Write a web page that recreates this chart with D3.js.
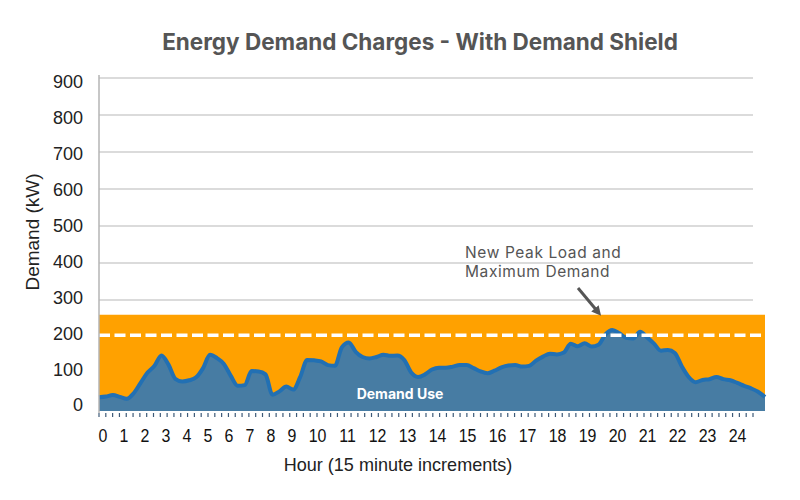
<!DOCTYPE html>
<html><head><meta charset="utf-8">
<script src="https://cdn.jsdelivr.net/npm/d3@7"></script>
<style>body{margin:0;background:#fff}svg{display:block}</style>
</head><body><svg id="c" width="800" height="500"></svg>
<script>
// ---- data ----
const hourLabels = ["0","1","2","3","4","5","6","7","8","9","10","11","12","13","14","15","16","17","18","19","20","21","22","23","24"];
const yTickValues = [0,100,200,300,400,500,600,700,800,900];
// demand every 15 minutes, hour 0 .. 24 (97 points)
const demand = [37,39,43,38,33,48,76,104,122,150,126,87,80,83,91,116,152,143,127,95,68,70,108,107,99,44,53,66,58,92,138,137,134,124,122,172,185,160,146,142,146,152,149,150,138,104,92,99,112,117,117,120,124,124,116,107,102,109,118,123,124,120,122,136,147,155,153,158,182,175,183,174,179,207,219,210,198,196,214,199,182,163,165,157,121,92,78,84,86,92,86,83,76,68,61,52,38];
const shieldLevel = [260]; // orange band top (kW)
const peakDemand = [205];  // dashed line (kW)
const title = "Energy Demand Charges - With Demand Shield";
const yTitle = "Demand (kW)";
const xTitle = "Hour (15 minute increments)";
const annotation = ["New Peak Load and","Maximum Demand"];
const areaLabel = "Demand Use";

const svg = d3.select("#c");
const x = d3.scaleLinear().domain([0,24]).range([99,765]);
const xTick = d3.scaleLinear().domain([0,24]).range([99,753]);
const y = d3.scaleLinear().domain([0,900]).range([411,78]);
const yLab = d3.scaleLinear().domain([0,900]).range([405,82]);

// gridlines
svg.append("g").selectAll("line").data(yTickValues.filter(v=>v>0)).join("line")
  .attr("x1",99).attr("x2",753).attr("y1",d=>y(d)).attr("y2",d=>y(d))
  .attr("stroke","#cfcfcf").attr("stroke-width",1.3);

// orange shield band
svg.append("path").datum([0,24])
  .attr("d", d3.area().x(d=>x(d)).y0(y(0)).y1(y(shieldLevel[0])))
  .attr("fill","#ffa100");

// demand area
const pts = demand.map((d,i)=>({h:i/4,v:d}));
svg.append("path").datum(pts)
  .attr("d", d3.area().curve(d3.curveMonotoneX).x(d=>x(d.h)).y0(y(0)).y1(d=>y(d.v)))
  .attr("fill","#477ca3");
svg.append("path").datum(pts)
  .attr("d", d3.line().curve(d3.curveMonotoneX).x(d=>x(d.h)).y(d=>y(d.v)))
  .attr("fill","none").attr("stroke","#2270b3").attr("stroke-width",4).attr("stroke-linejoin","round");

// dashed peak line
svg.append("line").attr("x1",x(0)).attr("x2",x(24)).attr("y1",y(peakDemand[0])).attr("y2",y(peakDemand[0]))
  .attr("stroke","#fff").attr("stroke-width",3.5).attr("stroke-dasharray","11,4.5");

// left axis line
svg.append("line").attr("x1",99).attr("x2",99).attr("y1",75).attr("y2",413)
  .attr("stroke","#b5b5b5").attr("stroke-width",1.5);

// 15-minute ticks
svg.append("g").selectAll("line").data(d3.range(0,97)).join("line")
  .attr("x1",d=>xTick(d/4)).attr("x2",d=>xTick(d/4)).attr("y1",413).attr("y2",417)
  .attr("stroke","#3d5a78").attr("stroke-width",1.2);

// y tick labels
svg.append("g").selectAll("text").data(yTickValues).join("text")
  .attr("x",83).attr("y",d=>yLab(d)).attr("dy","0.36em").attr("text-anchor","end")
  .attr("font-family","Liberation Sans, Arial, sans-serif").attr("font-size",18).attr("fill","#222")
  .text(d=>d);

// x tick labels laid out as a spaced row
const charW = 9, gap = 12;
let pos = [], cx = 103;
hourLabels.forEach((l,i)=>{
  if(i>0) cx += (hourLabels[i-1].length*charW)/2 + gap + (l.length*charW)/2;
  pos.push(cx);
});
svg.append("g").selectAll("text").data(hourLabels).join("text")
  .attr("transform",(d,i)=>`translate(${pos[i]},442) scale(0.84,1)`)
  .attr("text-anchor","middle")
  .attr("font-family","Liberation Sans, Arial, sans-serif").attr("font-size",19).attr("fill","#111")
  .text(d=>d);

// axis titles
svg.append("text").attr("transform","translate(398,471) scale(0.95,1)").attr("text-anchor","middle")
  .attr("font-family","Liberation Sans, Arial, sans-serif").attr("font-size",19).attr("fill","#222").text(xTitle);
svg.append("text").attr("transform","translate(39,232) rotate(-90)").attr("text-anchor","middle")
  .attr("font-family","Liberation Sans, Arial, sans-serif").attr("font-size",19).attr("fill","#222").text(yTitle);

// title
svg.append("text").attr("x",420).attr("y",50).attr("text-anchor","middle")
  .attr("font-family","Inter, Roboto, sans-serif").attr("font-weight",700).attr("font-size",22.5).attr("fill","#555")
  .text(title);

// area label
svg.append("text").attr("x",400).attr("y",399).attr("text-anchor","middle")
  .attr("font-family","Inter, Roboto, sans-serif").attr("font-weight",700).attr("font-size",14).attr("fill","#fff")
  .text(areaLabel);

// annotation
svg.append("g").selectAll("text").data(annotation).join("text")
  .attr("x",465).attr("y",(d,i)=>258+i*19)
  .attr("font-family","Inter, Roboto, sans-serif").attr("font-size",15.5).attr("letter-spacing",0.6).attr("fill","#555")
  .text(d=>d);
svg.append("defs").append("marker").attr("id","ah").attr("viewBox","0 0 10 10").attr("refX",5).attr("refY",5)
  .attr("markerWidth",3.2).attr("markerHeight",3.2).attr("orient","auto")
  .append("path").attr("d","M0,0 L10,5 L0,10 z").attr("fill","#555");
svg.append("line").attr("x1",578).attr("y1",288).attr("x2",598).attr("y2",312)
  .attr("stroke","#555").attr("stroke-width",3).attr("marker-end","url(#ah)");
</script></body></html>
